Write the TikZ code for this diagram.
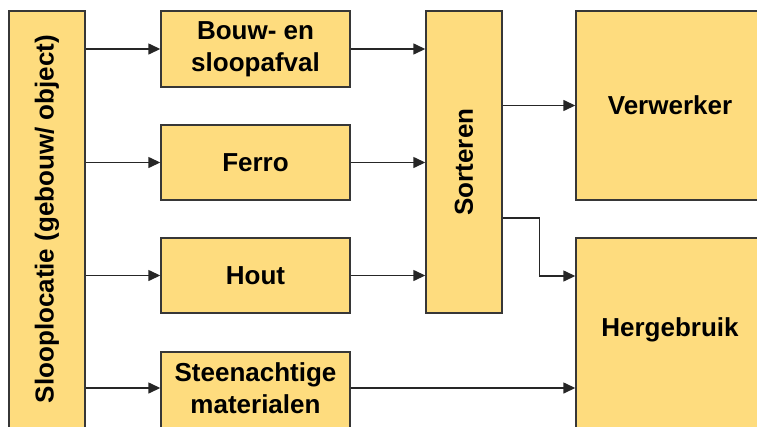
\documentclass[tikz,border=0pt]{standalone}
\usepackage{fontspec}
\setmainfont{Liberation Sans}
\usetikzlibrary{arrows.meta,calc}
\definecolor{boxfill}{RGB}{254,220,126}
\definecolor{boxline}{RGB}{55,55,55}
\begin{document}
\begin{tikzpicture}[x=1pt,y=-1pt,
  box/.style={draw=boxline,fill=boxfill,line width=1.4pt,inner sep=0pt,minimum width=#1},
  box/.default=189pt,
  lbl/.style={font=\fontsize{26}{32}\selectfont\bfseries,align=center,inner sep=0pt},
  arr/.style={draw=black!85,line width=1.4pt,-{Triangle[length=12pt,width=11pt]}},
  line/.style={draw=black!85,line width=1.4pt}]
\useasboundingbox (0,0) rectangle (757,426);
\clip (0,0) rectangle (757,426);
% boxes
\node[box=76pt,minimum height=429pt] (src) at (47,225.5) {};
\node[lbl,rotate=90] (srcT) at (47,219) {Slooplocatie (gebouw/ object)};
\node[box,minimum height=76pt,lbl] (bouw) at (255.5,49) {Bouw- en\\sloopafval};
\node[box,minimum height=75pt,lbl] (ferro) at (255.5,162.5) {Ferro};
\node[box,minimum height=75pt,lbl] (hout) at (255.5,275.5) {Hout};
\node[box,minimum height=88pt] (steen) at (255.5,396) {};
\node[lbl] (steenT) at (255.5,388) {Steenachtige\\materialen};
\node[box=76pt,minimum height=302pt,lbl] (sort) at (464,162) {\rotatebox{90}{Sorteren}};
\node[box=188pt,minimum height=189pt,lbl] (verw) at (670,105.5) {Verwerker};
\node[box=188pt,minimum height=200pt] (herg) at (670,338) {};
\node[lbl] (hergT) at (670,330) {Hergebruik};
% connectors
\draw[arr] (bouw.west -| src.east) -- (bouw.west);
\draw[arr] (ferro.west -| src.east) -- (ferro.west);
\draw[arr] (hout.west -| src.east) -- (hout.west);
\draw[arr] (steenT -| src.east) -- (steenT -| steen.west);
\draw[arr] (bouw.east) -- (bouw.east -| sort.west);
\draw[arr] (ferro.east) -- (ferro.east -| sort.west);
\draw[arr] (hout.east) -- (hout.east -| sort.west);
\draw[arr] (steenT -| steen.east) -- (steenT -| herg.west);
\draw[arr] (verw.west -| sort.east) -- (verw.west);
\coordinate (sout) at (sort.east |- 0,218);
\coordinate (hin) at (herg.west |- 0,276);
\draw[arr] (sout) -- ++(37,0) |- (hin);
\end{tikzpicture}
\end{document}
